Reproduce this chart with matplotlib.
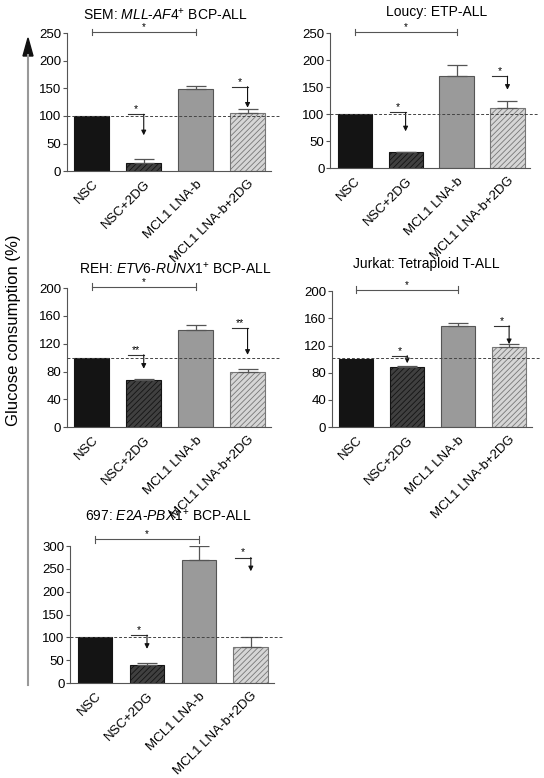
import matplotlib
matplotlib.use('Agg')
import matplotlib.pyplot as plt
import numpy as np

plt.rcParams['font.family'] = ['Liberation Sans', 'DejaVu Sans']
plt.rcParams['mathtext.fontset'] = 'custom'
plt.rcParams['mathtext.rm'] = 'Liberation Sans'
plt.rcParams['mathtext.it'] = 'Liberation Sans:italic'
plt.rcParams['hatch.linewidth'] = 0.6

# Categorias
groups = ['NSC', 'NSC+2DG', 'MCL1 LNA-b', 'MCL1 LNA-b+2DG']

# Valores por linhagem (média e erro superior)
sem_vals = [100, 15, 149, 105]
sem_err = [0, 7, 6, 8]
loucy_vals = [100, 29, 170, 112]
loucy_err = [0, 1, 20, 13]
reh_vals = [100, 68, 139, 80]
reh_err = [0, 1, 8, 4]
jurkat_vals = [100, 88, 148, 118]
jurkat_err = [0, 2, 5, 4]
c697_vals = [100, 40, 270, 80]
c697_err = [0, 5, 30, 20]

titles = [
    r'SEM: $\mathit{MLL}$-$\mathit{AF4}^{+}$ BCP-ALL',
    'Loucy: ETP-ALL',
    r'REH: $\mathit{ETV6}$-$\mathit{RUNX1}^{+}$ BCP-ALL',
    'Jurkat: Tetraploid T-ALL',
    r'697: $\mathit{E2A}$-$\mathit{PBX1}^{+}$ BCP-ALL',
]
# centro dos títulos em pixels (x, y)
title_pos = [(165, 15), (437, 12), (175, 269), (426, 264), (168, 516)]

# (ymax, passo, colchete, (linha, ponta) barra 2, (linha, ponta) barra 4, estrelas)
sig_info = [
    (250, 50, 252, (103, 65), (153, 115), ('*', '*')),
    (250, 50, 252, (103, 68), (170, 145), ('*', '*')),
    (200, 40, 202, (104, 84), (142, 104), ('**', '**')),
    (200, 40, 202, (105, 94), (149, 122), ('*', '*')),
    (300, 50, 315, (105, 75), (275, 245), ('*', '*')),
]
dash_levels = [100, 100, 100, 102, 100]

bar_colors = ['#141414', '#404040', '#9a9a9a', '#d6d6d6']
edge_colors = ['#141414', '#141414', '#555555', '#777777']
hatches = [None, '//////', None, '//////']

# posições dos eixos em fração da figura
positions = [
    [0.123, 0.780, 0.375, 0.1774],
    [0.607, 0.784, 0.368, 0.1735],
    [0.123, 0.451, 0.375, 0.1787],
    [0.610, 0.451, 0.368, 0.1748],
    [0.129, 0.122, 0.375, 0.176],
]

all_vals = [sem_vals, loucy_vals, reh_vals, jurkat_vals, c697_vals]
all_err = [sem_err, loucy_err, reh_err, jurkat_err, c697_err]

W, H = 544, 778
fig = plt.figure(figsize=(W / 100, H / 100), dpi=100)
x = np.arange(len(groups))

for i in range(5):
    ax = fig.add_axes(positions[i])
    vals, err = all_vals[i], all_err[i]
    ymax, step, brk, s2, s4, stars = sig_info[i]
    for j in range(4):
        ax.bar(x[j], vals[j], width=0.67, color=bar_colors[j], edgecolor=edge_colors[j],
               hatch=hatches[j], linewidth=0.8, zorder=2)
        if err[j] > 0:
            ax.errorbar(x[j], vals[j], yerr=[[0], [err[j]]], color='#555555', capsize=7,
                        elinewidth=0.9, capthick=0.9, zorder=3)
    ax.plot([-0.48, 3.6], [dash_levels[i]] * 2, ls=(0, (3, 2)), color='#444444',
            lw=0.7, clip_on=False, zorder=4)

    # colchete NSC vs MCL1 LNA-b
    h = ymax * 0.025
    ax.plot([0, 2], [brk, brk], color='#555555', lw=0.8, clip_on=False)
    ax.plot([0, 0], [brk - h, brk + h], color='#555555', lw=0.8, clip_on=False)
    ax.plot([2, 2], [brk - h, brk + h], color='#555555', lw=0.8, clip_on=False)
    ax.text(1, brk, '*', ha='center', va='bottom', fontsize=7, clip_on=False)

    # setas de significância
    for xc, (yl, ya), st in [(1, s2, stars[0]), (3, s4, stars[1])]:
        ax.plot([xc - 0.3, xc], [yl, yl], color='#333333', lw=0.8, clip_on=False)
        ax.annotate('', xy=(xc, ya), xytext=(xc, yl),
                    arrowprops=dict(arrowstyle='-|>', color='#111111', lw=0.8,
                                    mutation_scale=7, shrinkA=0, shrinkB=0),
                    annotation_clip=False)
        ax.text(xc - 0.15, yl, st, ha='center', va='bottom', fontsize=7.5)

    ax.set_xlim(-0.48, 3.45)
    ax.set_ylim(0, ymax)
    ax.set_yticks(np.arange(0, ymax + 1, step))
    ax.tick_params(axis='y', labelsize=9.5, length=3, width=0.8, color='#555555', pad=1)
    ax.tick_params(axis='x', length=0, pad=5)
    ax.set_xticks(x)
    ax.set_xticklabels(groups, rotation=45, ha='right', rotation_mode='anchor', fontsize=9.5)
    for sp in ['top', 'right']:
        ax.spines[sp].set_visible(False)
    for sp in ['left', 'bottom']:
        ax.spines[sp].set_color('#555555')
        ax.spines[sp].set_linewidth(0.8)
    tx, ty = title_pos[i]
    fig.text(tx / W, 1 - ty / H, titles[i], ha='center', va='center', fontsize=10)

# rótulo comum com seta
fig.add_artist(plt.Line2D([28 / W, 28 / W], [1 - 685 / H, 1 - 55 / H],
                          color='#999999', lw=1.5))
fig.patches.append(matplotlib.patches.FancyArrow(28 / W, 1 - 56 / H, 0, 18 / H,
                                                 width=0.0001, head_width=10 / W,
                                                 head_length=18 / H, length_includes_head=True,
                                                 color='#111111', transform=fig.transFigure,
                                                 figure=fig))
fig.text(14 / W, 1 - 330 / H, 'Glucose consumption (%)', rotation=90,
         ha='center', va='center', fontsize=12)

plt.savefig('out.png', dpi=100)
plt.close(fig)
